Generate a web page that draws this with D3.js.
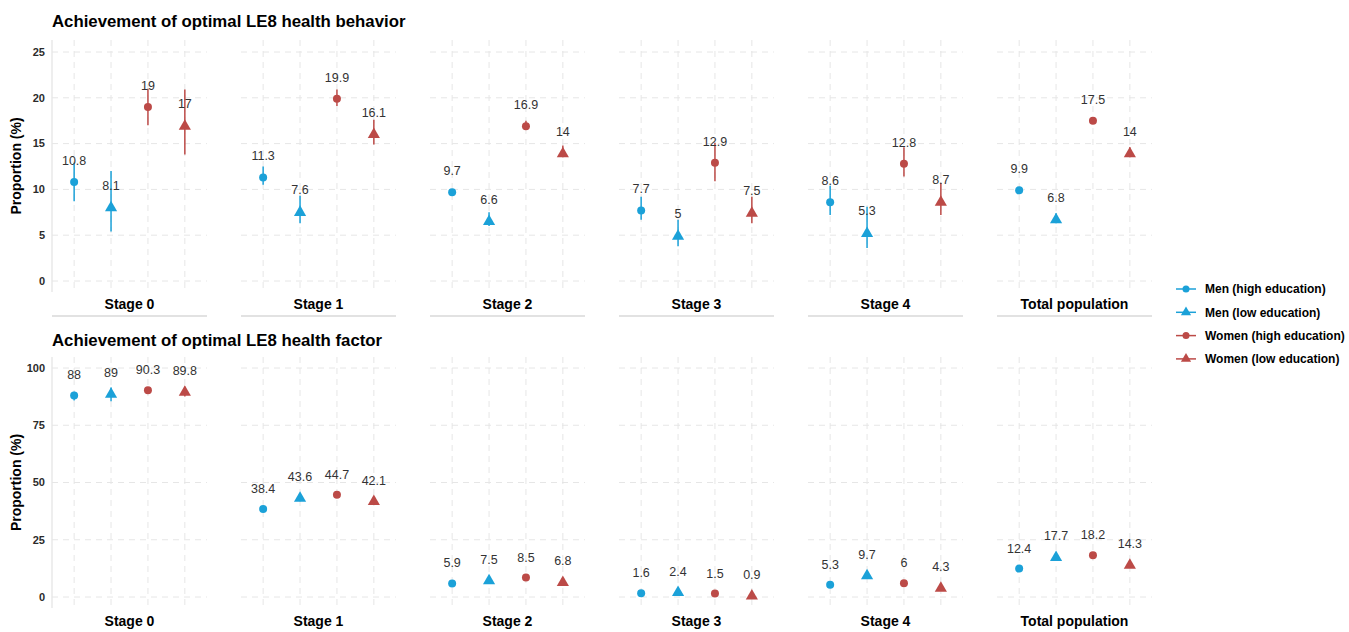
<!DOCTYPE html>
<html>
<head>
<meta charset="utf-8">
<script src="https://cdn.jsdelivr.net/npm/d3@7"></script>
<style>
  body { margin: 0; background: #fff; }
  svg { font-family: "Liberation Sans", Arial, sans-serif; }
</style>
</head>
<body>
<svg id="chart" width="1349" height="632"></svg>
<script>
// Panels and groups
const stages = ['Stage 0', 'Stage 1', 'Stage 2', 'Stage 3', 'Stage 4', 'Total population'];
const groups = ['Men (high education)', 'Men (low education)', 'Women (high education)', 'Women (low education)'];
const groupColors = ['#1ba1d8', '#1ba1d8', '#bc4a47', '#bc4a47'];
const groupShapes = ['circle', 'triangle', 'circle', 'triangle'];

// Health behavior: estimate per stage, one value per group, with CI
const behaviorValues = [
  [10.8, 8.1, 19, 17],
  [11.3, 7.6, 19.9, 16.1],
  [9.7, 6.6, 16.9, 14],
  [7.7, 5, 12.9, 7.5],
  [8.6, 5.3, 12.8, 8.7],
  [9.9, 6.8, 17.5, 14]
];
const behaviorLower = [
  [8.7, 5.4, 17.0, 13.8],
  [10.5, 6.3, 19.1, 14.9],
  [9.4, 6.0, 16.5, 13.5],
  [6.7, 3.8, 10.9, 6.3],
  [7.2, 3.6, 11.4, 7.2],
  [9.7, 6.3, 17.2, 13.5]
];
const behaviorUpper = [
  [12.9, 12.0, 21.0, 20.9],
  [12.5, 9.3, 20.9, 17.6],
  [10.0, 7.5, 17.5, 14.8],
  [9.2, 6.7, 15.1, 9.2],
  [10.4, 8.1, 14.6, 10.7],
  [10.1, 7.4, 17.8, 14.6]
];
const behaviorTicks = [0, 5, 10, 15, 20, 25];

// Health factor
const factorValues = [
  [88, 89, 90.3, 89.8],
  [38.4, 43.6, 44.7, 42.1],
  [5.9, 7.5, 8.5, 6.8],
  [1.6, 2.4, 1.5, 0.9],
  [5.3, 9.7, 6, 4.3],
  [12.4, 17.7, 18.2, 14.3]
];
const factorLower = [
  [85.8, 85.5, 89.5, 87.6],
  [37.6, 41.8, 43.9, 41.2],
  [5.5, 6.8, 8.0, 6.3],
  [1.2, 1.6, 1.1, 0.5],
  [4.8, 8.4, 5.4, 3.6],
  [12.0, 17.1, 17.8, 13.8]
];
const factorUpper = [
  [89.6, 91.5, 91.1, 91.8],
  [39.2, 45.4, 45.5, 43.0],
  [6.3, 8.2, 9.0, 7.3],
  [2.0, 3.2, 1.9, 1.3],
  [5.8, 11.0, 6.6, 5.0],
  [12.8, 18.3, 18.6, 14.8]
];
const factorTicks = [0, 25, 50, 75, 100];

const svg = d3.select('#chart');
const gridColor = '#e6e6e6';

const panelScale = d3.scaleBand()
  .domain(stages)
  .range([52, 1152])
  .paddingInner(0.18)
  .paddingOuter(0);

const groupScale = d3.scalePoint()
  .domain(groups)
  .range([0, panelScale.bandwidth()])
  .padding(0.6);

const triangle = d3.symbol().type(d3.symbolTriangle).size(64);

function drawRow(opts) {
  const { title, titleY, values, lower, upper, ticks, yDomain, yRange, top, bottom, stripY, labelOffset, stripLine } = opts;
  const y = d3.scaleLinear().domain(yDomain).range(yRange);
  const row = svg.append('g');

  row.append('text')
    .attr('x', 52)
    .attr('y', titleY)
    .style('font-size', '16.8px')
    .style('font-weight', 'bold')
    .style('fill', '#000')
    .text(title);

  row.append('text')
    .attr('transform', `translate(21,${(top + bottom) / 2}) rotate(-90)`)
    .attr('text-anchor', 'middle')
    .style('font-size', '14px')
    .style('font-weight', 'bold')
    .text('Proportion (%)');

  // y tick labels on the first panel only
  row.append('g').selectAll('text')
    .data(ticks)
    .enter().append('text')
    .attr('x', 45)
    .attr('y', d => y(d))
    .attr('dy', '0.35em')
    .attr('text-anchor', 'end')
    .style('font-size', '11px')
    .style('font-weight', 'bold')
    .style('fill', '#2b2b2b')
    .text(d => d);

  // left axis line
  row.append('line')
    .attr('x1', 52).attr('x2', 52)
    .attr('y1', top).attr('y2', bottom)
    .style('stroke', '#e3e3e3')
    .style('stroke-width', 1.2);

  stages.forEach((stage, si) => {
    const px = panelScale(stage);
    const panel = row.append('g').attr('transform', `translate(${px},0)`);

    panel.selectAll('.hgrid')
      .data(ticks)
      .enter().append('line')
      .attr('x1', 0).attr('x2', panelScale.bandwidth())
      .attr('y1', d => y(d)).attr('y2', d => y(d))
      .style('stroke', gridColor)
      .style('stroke-dasharray', '6,5');

    panel.selectAll('.vgrid')
      .data(groups)
      .enter().append('line')
      .attr('x1', d => groupScale(d)).attr('x2', d => groupScale(d))
      .attr('y1', top).attr('y2', bottom)
      .style('stroke', gridColor)
      .style('stroke-dasharray', '6,5');

    const pts = groups.map((g, gi) => ({
      g, gi, v: values[si][gi], lo: lower[si][gi], hi: upper[si][gi]
    }));

    panel.selectAll('.err')
      .data(pts)
      .enter().append('line')
      .attr('x1', d => groupScale(d.g)).attr('x2', d => groupScale(d.g))
      .attr('y1', d => y(d.lo)).attr('y2', d => y(d.hi))
      .style('stroke', d => groupColors[d.gi])
      .style('stroke-width', 1.5);

    panel.selectAll('.pt-circle')
      .data(pts.filter(d => groupShapes[d.gi] === 'circle'))
      .enter().append('circle')
      .attr('cx', d => groupScale(d.g))
      .attr('cy', d => y(d.v))
      .attr('r', 4)
      .style('fill', d => groupColors[d.gi]);

    panel.selectAll('.pt-tri')
      .data(pts.filter(d => groupShapes[d.gi] === 'triangle'))
      .enter().append('path')
      .attr('d', triangle)
      .attr('transform', d => `translate(${groupScale(d.g)},${y(d.v) + 1})`)
      .style('fill', d => groupColors[d.gi]);

    panel.selectAll('.lbl')
      .data(pts)
      .enter().append('text')
      .attr('x', d => groupScale(d.g))
      .attr('y', d => y(d.v) - labelOffset)
      .attr('text-anchor', 'middle')
      .style('font-size', '12.5px')
      .style('fill', '#333')
      .text(d => d.v);

    panel.append('text')
      .attr('x', panelScale.bandwidth() / 2)
      .attr('y', stripY)
      .attr('text-anchor', 'middle')
      .style('font-size', '14px')
      .style('font-weight', 'bold')
      .style('fill', '#000')
      .text(stage);

    if (stripLine) {
      panel.append('line')
        .attr('x1', 0).attr('x2', panelScale.bandwidth())
        .attr('y1', stripLine).attr('y2', stripLine)
        .style('stroke', '#e2e2e2')
        .style('stroke-width', 2);
    }
  });
}

drawRow({
  title: 'Achievement of optimal LE8 health behavior',
  titleY: 27,
  values: behaviorValues, lower: behaviorLower, upper: behaviorUpper,
  ticks: behaviorTicks,
  yDomain: [0, 25], yRange: [281, 52],
  top: 40, bottom: 292,
  stripY: 309, labelOffset: 17, stripLine: 316
});

drawRow({
  title: 'Achievement of optimal LE8 health factor',
  titleY: 346,
  values: factorValues, lower: factorLower, upper: factorUpper,
  ticks: factorTicks,
  yDomain: [0, 100], yRange: [597, 368],
  top: 357, bottom: 608,
  stripY: 626, labelOffset: 16, stripLine: null
});

// Legend
const legend = svg.append('g').attr('transform', 'translate(1176,289)');
const item = legend.selectAll('g')
  .data(groups)
  .enter().append('g')
  .attr('transform', (d, i) => `translate(0,${i * 23.3})`);

item.append('line')
  .attr('x1', 0).attr('x2', 20)
  .style('stroke', (d, i) => groupColors[i])
  .style('stroke-width', 1.5);
item.filter((d, i) => groupShapes[i] === 'circle').append('circle')
  .attr('cx', 10).attr('r', 3.5)
  .style('fill', d => groupColors[groups.indexOf(d)]);
item.filter((d, i) => groupShapes[i] === 'triangle').append('path')
  .attr('d', d3.symbol().type(d3.symbolTriangle).size(45))
  .attr('transform', 'translate(10,0)')
  .style('fill', d => groupColors[groups.indexOf(d)]);
item.append('text')
  .attr('x', 29)
  .attr('dy', '0.35em')
  .style('font-size', '12px')
  .style('font-weight', 'bold')
  .style('fill', '#000')
  .text(d => d);
</script>
</body>
</html>
